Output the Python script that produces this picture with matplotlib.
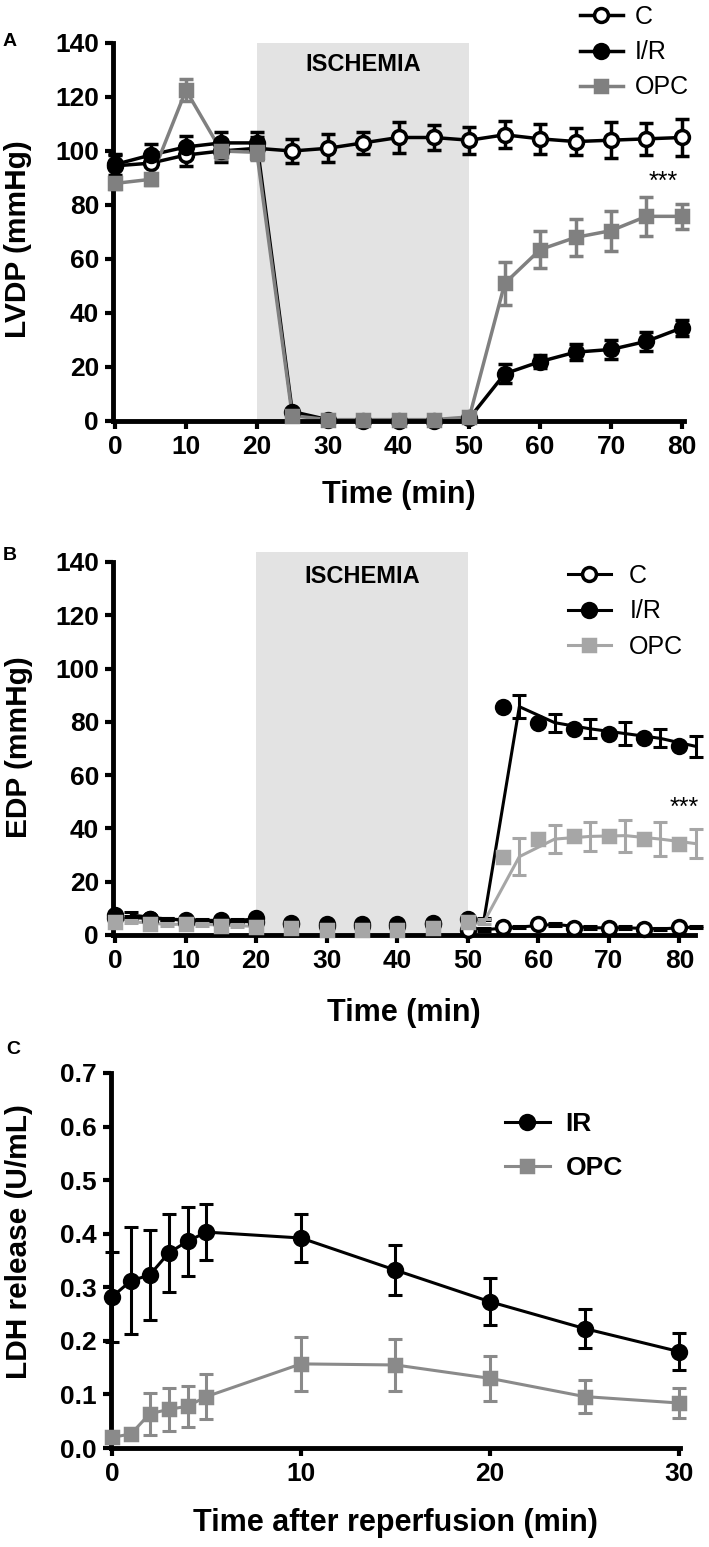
import matplotlib
matplotlib.use("Agg")
import matplotlib.pyplot as plt
from matplotlib.lines import Line2D
import numpy as np

plt.rcParams['font.family'] = ['Liberation Sans', 'DejaVu Sans']

# ---- data ----
time = [0, 5, 10, 15, 20, 25, 30, 35, 40, 45, 50, 55, 60, 65, 70, 75, 80]

# panel A: LVDP
lvdp_c = [94.5, 95.5, 98.5, 100, 101, 100, 101, 103, 105, 105, 104, 106, 104.5, 103.5, 104, 104.5, 105]
lvdp_c_err = [4, 4, 4, 4, 4, 4.3, 5.2, 4, 5.9, 4.6, 5, 5, 5.5, 5, 6.6, 5.9, 6.8]
lvdp_ir = [95, 98.5, 101.5, 103, 103, 3.5, 0.5, 0, 0, 0, 1, 17.5, 22, 25.5, 26.5, 29.5, 34.5]
lvdp_ir_err = [4, 4, 4, 4, 4, 1, 0.5, 0.5, 0.5, 0.5, 0.5, 3.5, 2.5, 3, 3.5, 3.5, 3]
lvdp_opc = [88, 89.5, 122.5, 100, 99.5, 2, 0.5, 0.5, 0.5, 0.5, 1.5, 51, 63.5, 68, 70.5, 75.8, 75.8]
lvdp_opc_err = [2, 2, 4, 3, 3, 1, 0.5, 0.5, 0.5, 0.5, 1, 8, 7, 6.8, 7.4, 7.1, 4.6]

# panel B: EDP
edp_c = [7.5, 6, 5, 5, 5, 4, 3.5, 3.5, 3.5, 4, 2, 3, 4, 2.7, 2.7, 2.3, 3]
edp_c_err = [1, 0.5, 0.5, 0.5, 0.5, 0.5, 0.5, 0.5, 0.5, 0.5, 0.5, 0.5, 0.5, 0.5, 0.5, 0.5, 0.5]
edp_ir = [6.5, 6, 5.5, 5.5, 6.5, 4.5, 4, 4, 4, 4.5, 6, 85.7, 79.7, 77.4, 75.6, 73.8, 70.8]
edp_ir_err = [0.5, 0.5, 0.5, 0.5, 0.5, 0.5, 0.5, 0.5, 0.5, 0.5, 0.5, 4.4, 3.4, 3.6, 4.2, 3.4, 4]
edp_opc = [5, 4, 4, 3.5, 3, 2.5, 2, 2, 2, 2.5, 5, 29.4, 36, 37, 37.3, 36, 34.3]
edp_opc_err = [0.5, 0.5, 0.5, 0.5, 0.5, 0.5, 0.5, 0.5, 0.5, 0.5, 1, 7, 5.3, 5.5, 6, 6.3, 5.5]
edp_line_shift = 2.3  # lines/error bars sit offset from markers in the original

# panel C: LDH release
reperf_time = [0, 1, 2, 3, 4, 5, 10, 15, 20, 25, 30]
ldh_ir = [0.282, 0.312, 0.323, 0.364, 0.386, 0.403, 0.392, 0.332, 0.273, 0.223, 0.18]
ldh_ir_err = [0.084, 0.1, 0.084, 0.072, 0.064, 0.052, 0.044, 0.047, 0.044, 0.036, 0.034]
ldh_opc = [0.02, 0.026, 0.064, 0.072, 0.078, 0.096, 0.157, 0.155, 0.13, 0.096, 0.084]
ldh_opc_err = [0.005, 0.01, 0.039, 0.04, 0.038, 0.042, 0.05, 0.048, 0.042, 0.031, 0.028]

W, H = 709, 1547
fig = plt.figure(figsize=(W / 100, H / 100), dpi=100)


def px_axes(left, top, right, bottom):
    return fig.add_axes([left / W, 1 - bottom / H, (right - left) / W, (bottom - top) / H])


def style_axes(ax):
    for s in ['top', 'right']:
        ax.spines[s].set_visible(False)
    for s in ['left', 'bottom']:
        ax.spines[s].set_linewidth(3.5)
    ax.tick_params(direction='out', length=6, width=3, labelsize=19, pad=4)
    for lab in ax.get_xticklabels() + ax.get_yticklabels():
        lab.set_fontweight('bold')


def series(ax, x, y, err, color, marker, mfc, ms, lw, zl=2, zm=4, xline=None):
    xl = x if xline is None else xline
    ax.errorbar(xl, y, yerr=err, fmt='none', ecolor=color, elinewidth=lw,
                capsize=5, capthick=lw, zorder=zl, clip_on=False)
    ax.plot(xl, y, color=color, lw=lw, zorder=zl, clip_on=False)
    ax.plot(x, y, ls='none', marker=marker, mfc=mfc, mec=color, ms=ms,
            mew=2.5, zorder=zm, clip_on=False)


# ---------- panel A ----------
axA = px_axes(113, 43, 684, 421)
axA.axvspan(20, 50, color='#e3e3e3', zorder=0, lw=0)
series(axA, time, lvdp_c, lvdp_c_err, 'black', 'o', 'white', 10, 2.5, zm=4)
series(axA, time, lvdp_ir, lvdp_ir_err, 'black', 'o', 'black', 10, 2.5, zm=5)
series(axA, time, lvdp_opc, lvdp_opc_err, '#808080', 's', '#808080', 9, 2.5, zm=6)
axA.set_xlim(-0.3, 80.3)
axA.set_ylim(0, 140)
axA.set_xticks(range(0, 81, 10))
axA.set_yticks(range(0, 141, 20))
style_axes(axA)
axA.text(35, 132, 'ISCHEMIA', ha='center', va='center', fontsize=17, fontweight='bold')
axA.text(77.4, 88.6, '***', ha='center', va='center', fontsize=18)
axA.set_xlabel('Time (min)', fontsize=22, fontweight='bold')
axA.xaxis.set_label_coords(0.5, -0.196)
axA.xaxis.label.set_va('center')
axA.set_ylabel('LVDP (mmHg)', fontsize=21.5, fontweight='bold')
axA.yaxis.set_label_coords(-0.166, 0.48)
axA.yaxis.label.set_va('center')
fig.text(10 / W, 1 - 42 / H, 'A', fontsize=14, fontweight='bold', ha='center', va='center')

legA = [Line2D([], [], color='black', lw=2.5, marker='o', mfc='white', mec='black', ms=10, mew=2.5),
        Line2D([], [], color='black', lw=2.5, marker='o', mfc='black', mec='black', ms=10, mew=2.5),
        Line2D([], [], color='#808080', lw=2.5, marker='s', mfc='#808080', mec='#808080', ms=9, mew=2.5)]
fig.legend(legA, ['C', 'I/R', 'OPC'], loc='upper left', bbox_to_anchor=(580 / W, 1 - 5 / H),
           frameon=False, fontsize=18, handlelength=1.7, handletextpad=0.5,
           labelspacing=0.45, borderpad=0, borderaxespad=0)

# ---------- panel B ----------
axB = px_axes(113, 562, 695, 935)
shifted = [t + edp_line_shift for t in time]
series(axB, time, edp_c, edp_c_err, 'black', 'o', 'white', 10, 2.2, zl=1, zm=4, xline=shifted)
series(axB, time, edp_ir, edp_ir_err, 'black', 'o', 'black', 10, 2.2, zl=1, zm=5, xline=shifted)
series(axB, time, edp_opc, edp_opc_err, '#a6a6a6', 's', '#a6a6a6', 8, 2.2, zl=1, zm=6, xline=shifted)
axB.axvspan(20, 50, ymin=0, ymax=143.8 / 140, color='#e3e3e3', zorder=2.5, lw=0, clip_on=False)
axB.set_xlim(-0.3, 82.2)
axB.set_ylim(0, 140)
axB.set_xticks(range(0, 81, 10))
axB.set_yticks(range(0, 141, 20))
style_axes(axB)
axB.text(35, 134.4, 'ISCHEMIA', ha='center', va='center', fontsize=17, fontweight='bold', zorder=7)
axB.text(80.7, 47.7, '***', ha='center', va='center', fontsize=18)
axB.set_xlabel('Time (min)', fontsize=22, fontweight='bold')
axB.xaxis.set_label_coords(0.5, -0.209)
axB.xaxis.label.set_va('center')
axB.set_ylabel('EDP (mmHg)', fontsize=21.5, fontweight='bold')
axB.yaxis.set_label_coords(-0.161, 0.504)
axB.yaxis.label.set_va('center')
fig.text(10 / W, 1 - 555 / H, 'B', fontsize=14, fontweight='bold', ha='center', va='center')

legB = [Line2D([], [], color='black', lw=2.2, marker='o', mfc='white', mec='black', ms=10, mew=2.5),
        Line2D([], [], color='black', lw=2.2, marker='o', mfc='black', mec='black', ms=10, mew=2.5),
        Line2D([], [], color='#a6a6a6', lw=2.2, marker='s', mfc='#a6a6a6', mec='#a6a6a6', ms=8, mew=2.5)]
fig.legend(legB, ['C', 'I/R', 'OPC'], loc='upper left', bbox_to_anchor=(568 / W, 1 - 564 / H),
           frameon=False, fontsize=18, handlelength=1.7, handletextpad=0.75,
           labelspacing=0.45, borderpad=0, borderaxespad=0)

# ---------- panel C ----------
axC = px_axes(111, 1073, 680, 1448)
series(axC, reperf_time, ldh_ir, ldh_ir_err, 'black', 'o', 'black', 10, 2.2, zm=5)
series(axC, reperf_time, ldh_opc, ldh_opc_err, '#8a8a8a', 's', '#8a8a8a', 9, 2.2, zm=6)
axC.set_xlim(-0.05, 30.05)
axC.set_ylim(0, 0.7)
axC.set_xticks([0, 10, 20, 30])
axC.set_yticks(np.arange(0, 0.71, 0.1))
axC.set_yticklabels(['%.1f' % v for v in np.arange(0, 0.71, 0.1)])
style_axes(axC)
axC.set_xlabel('Time after reperfusion (min)', fontsize=22, fontweight='bold')
axC.xaxis.set_label_coords(0.5, -0.2)
axC.xaxis.label.set_va('center')
axC.set_ylabel('LDH release (U/mL)', fontsize=21.5, fontweight='bold')
axC.yaxis.set_label_coords(-0.162, 0.55)
axC.yaxis.label.set_va('center')
fig.text(13 / W, 1 - 1050 / H, 'C', fontsize=14, fontweight='bold', ha='center', va='center')

legC = [Line2D([], [], color='black', lw=2.2, marker='o', mfc='black', mec='black', ms=10, mew=2.5),
        Line2D([], [], color='#8a8a8a', lw=2.2, marker='s', mfc='#8a8a8a', mec='#8a8a8a', ms=9, mew=2.5)]
fig.legend(legC, ['IR', 'OPC'], loc='upper left', bbox_to_anchor=(505 / W, 1 - 1112 / H),
           frameon=False, prop={'size': 19, 'weight': 'bold'}, handlelength=1.7,
           handletextpad=0.6, labelspacing=0.75, borderpad=0, borderaxespad=0)

fig.savefig('out.png', dpi=100)
